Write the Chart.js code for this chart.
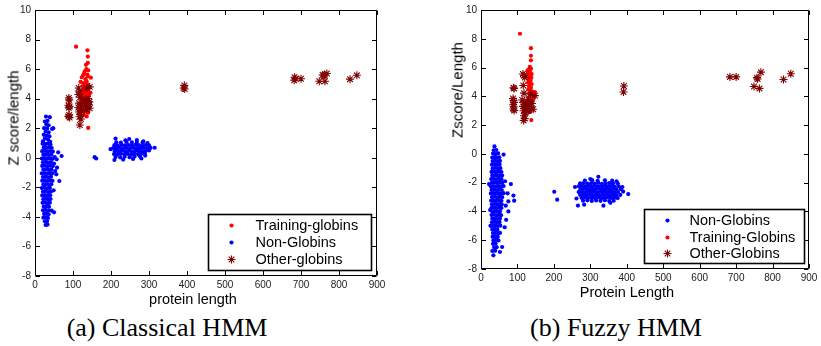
<!DOCTYPE html>
<html><head><meta charset="utf-8">
<script src="https://cdn.jsdelivr.net/npm/chart.js@4.4.1/dist/chart.umd.min.js"></script>
<style>
html,body{margin:0;padding:0;background:#fff;}
#wrap{position:relative;width:821px;height:346px;overflow:hidden;font-family:"Liberation Sans",Arial,sans-serif;background:#fff;}
.panel{position:absolute;top:0;height:310px;}
.t{position:absolute;white-space:nowrap;color:#000;line-height:1;}
.xt{font-size:14.5px;transform:translate(-50%,-50%);}
.yt{font-size:15px;transform:translate(-50%,-50%) rotate(-90deg);}
.cap{font-family:"Liberation Serif","Times New Roman",serif;font-size:26px;transform:translate(-50%,-50%);}
</style></head>
<body><div id="wrap">
<div class="panel" style="left:0;width:410px"><canvas id="cA"></canvas></div>
<div class="panel" style="left:410px;width:411px"><canvas id="cB"></canvas></div>
<div class="t xt" style="left:193px;top:299px">protein length</div>
<div class="t yt" style="left:13px;top:118px">Z score/length</div>
<div class="t xt" style="left:627px;top:292px">Protein Length</div>
<div class="t yt" style="left:457px;top:90px">Zscore/Length</div>
<div class="t cap" style="left:167px;top:328px">(a) Classical HMM</div>
<div class="t cap" style="left:616px;top:328px">(b) Fuzzy HMM</div>
</div>
<script>
// ---------- data ----------
const xRange = [0, 900];
const yRange = [-8, 10];
const labelsA = ['Training-globins', 'Non-Globins', 'Other-globins'];
const labelsB = ['Non-Globins', 'Training-Globins', 'Other-Globins'];

const trainA = [[108,7.52],[138,7.27],[139,6.85],[139,6.42],[134,6.29],[140,5.91],[129,5.69],[139,5.51],[147,5.42],[120,5.13],[133,5.32],[136,5.15],[128,5.05],[131,4.92],[138,4.95],[126,4.85],[134,4.78],[141,4.82],[129,4.65],[136,4.6],[124,4.55],[132,4.45],[139,4.5],[127,4.35],[134,4.3],[142,4.25],[122,4.2],[130,4.12],[137,4.05],[125,3.95],[132,3.9],[140,3.85],[128,3.75],[135,3.7],[122,3.6],[142,3.55],[130,3.45],[137,3.35],[126,3.25],[133,3.15],[140,3.05],[129,2.9],[136,2.8],[145,3.7],[146,4.4],[118,4.4],[123,5.45],[127,5.6],[131,5.85],[135,6.0],[138,5.62],[140,2.02]];

const otherA = [[89,4.05],[90,3.92],[88,3.55],[91,3.47],[89,3.38],[90,2.9],[88,2.8],[91,2.72],[115,4.72],[117,4.5],[114,4.28],[119,4.1],[116,3.7],[121,3.55],[114,3.4],[118,3.3],[122,3.2],[116,3.1],[120,2.95],[117,2.78],[121,2.62],[118,2.22],[144,4.8],[136,4.72],[140,4.0],[137,3.85],[143,3.78],[133,3.55],[139,3.45],[144,3.35],[136,3.25],[141,3.6],[128,3.9],[393,4.9],[391,4.72],[394,4.65],[683,5.45],[682,5.25],[686,5.35],[700,5.35],[757,5.6],[762,5.62],[768,5.7],[760,5.55],[748,5.18],[763,5.18],[829,5.32],[847,5.58]];

const nonA = [
[29,2.79],[39,2.75],[26,2.45],[33,2.5],[30,2.25],[36,2.2],[24,2.0],[32,1.98],[28,1.78],[36,1.72],[23,1.55],[31,1.5],[38,1.45],[26,1.3],[34,1.25],[21,1.12],[40,1.08],[45,1.95],[48,2.0],
[20,0.95],[27,0.92],[34,0.97],[41,0.9],[23,0.7],[30,0.68],[37,0.72],[44,0.66],
[19,0.45],[26,0.47],[33,0.43],[40,0.46],[47,0.42],[22,0.2],[29,0.22],[36,0.18],[43,0.21],
[18,-0.05],[25,-0.03],[32,-0.06],[39,-0.04],[46,-0.07],[21,-0.3],[28,-0.28],[35,-0.32],[42,-0.29],
[19,-0.55],[26,-0.53],[33,-0.57],[40,-0.54],[47,-0.56],[22,-0.8],[29,-0.78],[36,-0.82],[43,-0.79],
[18,-1.05],[25,-1.03],[32,-1.07],[39,-1.04],[45,-1.06],[21,-1.3],[28,-1.28],[35,-1.32],[42,-1.29],
[19,-1.55],[26,-1.53],[33,-1.57],[40,-1.54],[46,-1.56],[22,-1.8],[29,-1.78],[36,-1.82],[43,-1.79],
[18,-2.05],[25,-2.03],[32,-2.07],[39,-2.04],[21,-2.3],[28,-2.28],[35,-2.32],[42,-2.29],
[19,-2.55],[26,-2.53],[33,-2.57],[40,-2.54],[22,-2.8],[29,-2.78],[36,-2.82],[41,-2.79],
[20,-3.05],[27,-3.03],[34,-3.07],[39,-3.04],[23,-3.3],[30,-3.28],[37,-3.32],
[21,-3.55],[28,-3.53],[35,-3.57],[24,-3.8],[31,-3.78],[36,-3.82],
[22,-4.05],[29,-4.03],[34,-4.07],[26,-4.3],[32,-4.28],[28,-4.55],[33,-4.52],
[61,0.37],[70,0.12],[57,-0.1],[58,-0.67],[56,-1.12],[64,-1.57],[52,0.05],[50,-0.4],[53,-0.9],[44,-3.58],[50,-3.69],[49,-2.2],
[157,0.04],[161,-0.05],
[214,1.05],[226,1.02],[241,1.07],[255,1.04],[268,1.06],[283,1.03],[296,1.0],
[209,0.85],[218,0.83],[228,0.87],[237,0.84],[246,0.86],[255,0.82],[264,0.88],[273,0.85],[282,0.83],[291,0.86],[300,0.84],
[206,0.65],[214,0.63],[223,0.67],[232,0.64],[241,0.66],[250,0.62],[259,0.68],[268,0.65],[277,0.63],[286,0.66],[295,0.64],[304,0.67],
[210,0.45],[219,0.43],[228,0.47],[237,0.44],[246,0.46],[255,0.42],[264,0.48],[273,0.45],[282,0.43],[291,0.46],[300,0.5],
[208,0.25],[217,0.23],[226,0.27],[235,0.24],[244,0.26],[253,0.22],[262,0.28],[271,0.25],[280,0.27],[289,0.3],
[212,0.05],[224,0.03],[236,0.07],[249,0.04],[262,0.08],[276,0.1],[290,0.15],
[209,-0.15],[232,-0.12],[258,-0.08],[280,-0.05],
[212,1.3],[248,1.27],[268,1.2],[315,0.68],[199,0.58],[238,1.18],[285,1.12]];

const trainB = [[107,8.35],[137,7.35],[137,6.82],[137,6.5],[134,6.05],[132,5.88],[137,5.92],[130,5.65],[135,5.62],[139,5.55],[128,5.42],[133,5.35],[138,5.3],[131,5.15],[136,5.1],[129,4.95],[134,4.9],[139,4.85],[132,4.7],[137,4.6],[130,4.5],[135,4.42],[140,4.35],[133,4.2],[144,4.18],[148,4.3],[138,4.02],[130,3.9],[142,3.75],[127,3.6],[136,3.5],[140,3.2],[125,3.1],[133,2.9],[138,2.35],[145,3.9],[128,5.8],[134,5.75]];

const otherB = [[91,4.55],[89,4.6],[88,3.85],[89,3.72],[91,3.58],[88,3.42],[90,3.28],[89,3.12],[91,3.02],[115,5.55],[118,5.45],[120,5.3],[116,4.75],[118,4.22],[113,3.75],[118,3.6],[122,3.45],[115,3.3],[120,3.15],[117,3.0],[122,2.85],[118,2.65],[120,2.45],[117,2.32],[130,3.8],[135,3.6],[128,3.4],[133,3.2],[138,3.1],[130,3.0],[143,3.1],[148,4.05],[140,3.5],[136,4.15],[392,4.72],[391,4.3],[683,5.35],[700,5.35],[757,5.3],[759,5.2],[768,5.68],[749,4.68],[764,4.55],[830,5.17],[850,5.57]];

const nonB = [
[37,0.52],[35,0.25],[42,0.27],[33,0.02],[40,-0.01],[47,0.03],
[31,-0.25],[38,-0.23],[45,-0.27],[50,-0.24],[32,-0.5],[39,-0.48],[46,-0.52],[52,-0.49],
[30,-0.75],[37,-0.73],[44,-0.77],[51,-0.74],[32,-1.0],[39,-0.98],[46,-1.02],[53,-0.99],
[29,-1.25],[36,-1.23],[43,-1.27],[50,-1.24],[56,-1.26],[31,-1.5],[38,-1.48],[45,-1.52],[52,-1.49],[58,-1.51],
[28,-1.75],[35,-1.73],[42,-1.77],[49,-1.74],[56,-1.76],[30,-2.0],[37,-1.98],[44,-2.02],[51,-1.99],[58,-2.01],
[27,-2.25],[34,-2.23],[41,-2.27],[48,-2.24],[55,-2.26],[62,-2.23],[29,-2.5],[36,-2.48],[43,-2.52],[50,-2.49],[57,-2.51],
[27,-2.75],[34,-2.73],[41,-2.77],[48,-2.74],[55,-2.76],[62,-2.73],[30,-3.0],[37,-2.98],[44,-3.02],[51,-2.99],[58,-3.01],
[28,-3.25],[35,-3.23],[42,-3.27],[49,-3.24],[56,-3.26],[30,-3.5],[37,-3.48],[44,-3.52],[51,-3.49],[57,-3.51],
[29,-3.75],[36,-3.73],[43,-3.77],[50,-3.74],[56,-3.76],[31,-4.0],[38,-3.98],[45,-4.02],[52,-3.99],
[29,-4.25],[36,-4.23],[43,-4.27],[50,-4.24],[55,-4.26],[31,-4.5],[38,-4.48],[45,-4.52],[52,-4.49],
[30,-4.75],[37,-4.73],[44,-4.77],[51,-4.74],[32,-5.0],[39,-4.98],[46,-5.02],[53,-4.99],
[31,-5.25],[38,-5.23],[45,-5.27],[33,-5.5],[40,-5.48],[47,-5.52],[52,-5.49],
[32,-5.75],[39,-5.73],[46,-5.77],[34,-6.0],[41,-5.98],[48,-6.02],[33,-6.25],[40,-6.23],
[36,-6.5],[43,-6.48],[58,-6.47],[31,-6.75],[39,-6.73],[52,-6.82],[34,-7.05],
[22,-2.1],[82,-2.1],[73,-2.74],[89,-2.9],[91,-3.25],[75,-3.3],[68,-3.6],[75,-4.0],[69,-4.58],[65,-5.1],[62,-0.05],[66,-1.9],[25,-3.9],[26,-5.0],
[201,-2.63],[209,-3.18],
[285,-1.85],[305,-1.83],[320,-1.87],[340,-1.84],[360,-1.86],[372,-1.9],
[272,-2.05],[282,-2.03],[292,-2.07],[302,-2.04],[312,-2.06],[322,-2.02],[332,-2.08],[342,-2.05],[352,-2.03],[362,-2.06],[375,-2.04],
[268,-2.25],[277,-2.23],[286,-2.27],[295,-2.24],[304,-2.26],[313,-2.22],[322,-2.28],[331,-2.25],[340,-2.23],[349,-2.26],[358,-2.24],[367,-2.27],[378,-2.25],[388,-2.3],
[273,-2.45],[282,-2.43],[291,-2.47],[300,-2.44],[309,-2.46],[318,-2.42],[327,-2.48],[336,-2.45],[345,-2.43],[354,-2.46],[363,-2.44],[372,-2.47],[384,-2.45],
[268,-2.65],[277,-2.63],[286,-2.67],[295,-2.64],[304,-2.66],[313,-2.62],[322,-2.68],[331,-2.65],[340,-2.63],[349,-2.66],[358,-2.64],[367,-2.67],[376,-2.65],[390,-2.62],
[272,-2.85],[281,-2.83],[290,-2.87],[299,-2.84],[308,-2.86],[317,-2.82],[326,-2.88],[335,-2.85],[344,-2.83],[353,-2.86],[362,-2.84],[371,-2.87],[382,-2.85],
[276,-3.05],[285,-3.03],[294,-3.07],[303,-3.04],[312,-3.06],[321,-3.02],[330,-3.08],[339,-3.05],[348,-3.03],[357,-3.06],[366,-3.04],[375,-3.07],
[280,-3.25],[292,-3.23],[304,-3.27],[316,-3.24],[328,-3.26],[340,-3.22],[352,-3.28],[364,-3.25],
[322,-1.59],[300,-1.75],[266,-3.59],[283,-3.53],[336,-3.6],[355,-3.4],[404,-2.79],[258,-2.3],[262,-3.1]];

// ---------- helpers ----------
const toXY = arr => arr.map(p => ({x: p[0], y: p[1]}));
const BLUE = '#0000ff', RED = '#ff0000', DARK = '#800000';
const TICK_FONT = {family: '"Liberation Sans", Arial, sans-serif', size: 10};

function dsBlue(label, pts){ return {label, data: toXY(pts), order: 3, pointStyle: 'circle', pointRadius: 2.1, pointHoverRadius: 2.1, backgroundColor: BLUE, borderColor: BLUE, borderWidth: 0}; }
function dsRed(label, pts){ return {label, data: toXY(pts), order: 2, pointStyle: 'circle', pointRadius: 2.1, pointHoverRadius: 2.1, backgroundColor: RED, borderColor: RED, borderWidth: 0}; }
function dsStar(label, pts){ return {label, data: toXY(pts), order: 1, pointStyle: 'star', pointRadius: 4, pointHoverRadius: 4, backgroundColor: DARK, borderColor: DARK, borderWidth: 1.1}; }

const framePlugin = {
  id: 'frame',
  afterDatasetsDraw(chart){
    const {ctx, chartArea: a, scales: {x, y}} = chart;
    const L = Math.round(a.left) + 0.5, R = Math.round(a.right) - 0.5, T = Math.round(a.top) + 0.5, B = Math.round(a.bottom) - 0.5;
    ctx.save();
    ctx.strokeStyle = '#000'; ctx.lineWidth = 1;
    ctx.beginPath();
    ctx.rect(L, T, R - L, B - T);
    const tl = 4.5;
    x.ticks.forEach(t => { const p = Math.round(x.getPixelForValue(t.value)) + 0.5; ctx.moveTo(p, B); ctx.lineTo(p, B - tl); ctx.moveTo(p, T); ctx.lineTo(p, T + tl); });
    y.ticks.forEach(t => { const p = Math.round(y.getPixelForValue(t.value)) + 0.5; ctx.moveTo(L, p); ctx.lineTo(L + tl, p); ctx.moveTo(R, p); ctx.lineTo(R - tl, p); });
    ctx.stroke();
    ctx.restore();
  }
};

const legendPlugin = {
  id: 'boxLegend',
  afterDraw(chart, args, o){
    const {ctx, chartArea: a} = chart;
    const bx = Math.round(a.right - o.mr - o.w) + 0.5, by = Math.round(a.bottom - o.mb - o.h) + 0.5;
    ctx.save();
    ctx.fillStyle = '#fff'; ctx.fillRect(bx, by, o.w, o.h);
    ctx.strokeStyle = '#000'; ctx.lineWidth = 1.6; ctx.strokeRect(bx, by, o.w, o.h);
    ctx.font = '14.5px "Liberation Sans", Arial, sans-serif';
    ctx.textBaseline = 'middle'; ctx.textAlign = 'left';
    chart.data.datasets.forEach((ds, i) => {
      const cy = by + o.rows[i];
      ctx.fillStyle = ds.backgroundColor; ctx.strokeStyle = ds.borderColor;
      ctx.lineWidth = ds.borderWidth;
      Chart.helpers.drawPoint(ctx, {pointStyle: ds.pointStyle, radius: ds.pointRadius, borderWidth: ds.borderWidth, rotation: 0}, bx + o.markerX, cy);
      ctx.fillStyle = '#000';
      ctx.fillText(ds.label, bx + o.textX, cy + 0.5);
    });
    ctx.restore();
  }
};

function makeChart(id, datasets, yWidth, xHeight, pad, legendOpts){
  return new Chart(document.getElementById(id), {
    type: 'scatter',
    data: {datasets},
    plugins: [framePlugin, legendPlugin],
    options: {
      responsive: true, maintainAspectRatio: false, animation: false,
      layout: {padding: pad},
      plugins: {legend: {display: false}, tooltip: {enabled: false}, boxLegend: legendOpts},
      scales: {
        x: {type: 'linear', min: xRange[0], max: xRange[1],
            ticks: {stepSize: 100, font: TICK_FONT, color: '#222', padding: 3, maxRotation: 0},
            grid: {display: false, drawTicks: false}, border: {display: false},
            afterFit: s => { s.height = xHeight; }},
        y: {type: 'linear', min: yRange[0], max: yRange[1],
            ticks: {stepSize: 2, font: TICK_FONT, color: '#222', padding: 4},
            grid: {display: false, drawTicks: false}, border: {display: false},
            afterFit: s => { s.width = yWidth; }}
      }
    }
  });
}

makeChart('cA',
  [dsRed(labelsA[0], trainA), dsBlue(labelsA[1], nonA), dsStar(labelsA[2], otherA)],
  35, 34, {left: 0, right: 33, top: 7, bottom: 0},
  {w: 163, h: 56, mr: 6, mb: 6, markerX: 23, textX: 47, rows: [11, 28, 45]});

makeChart('cB',
  [dsBlue(labelsB[0], nonB), dsRed(labelsB[1], trainB), dsStar(labelsB[2], otherB)],
  71, 41, {left: 0, right: 12, top: 8, bottom: 0},
  {w: 160, h: 54, mr: 5, mb: 6, markerX: 23, textX: 45, rows: [11, 28, 44]});
</script>
</body></html>
